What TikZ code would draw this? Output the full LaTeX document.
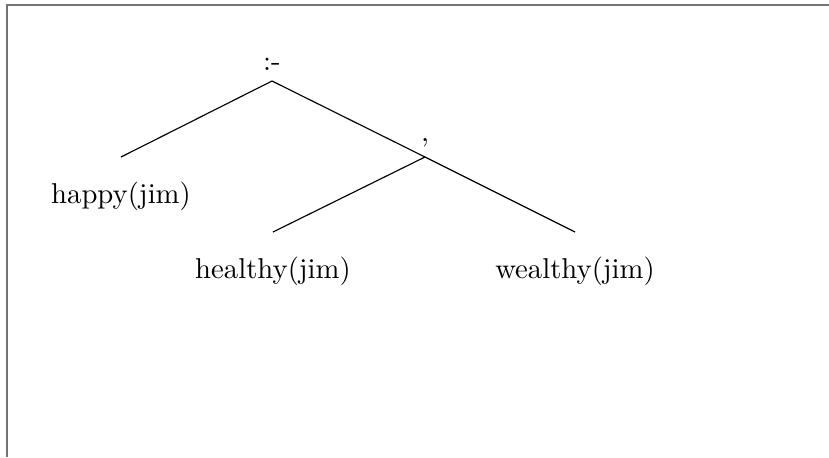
\documentclass[tikz,border=0pt]{standalone}
\usepackage{tikz}
\usetikzlibrary{positioning}

\definecolor{framegray}{gray}{0.45}

\begin{document}
\begin{tikzpicture}[x=0.3484pt, y=-0.3484pt,
  leaf/.style={inner sep=0pt},
  branch/.style={thin, black}]

\useasboundingbox (0,0) rectangle (829,457);

\draw[framegray, line width=0.85pt] (829,5) -- (7,5) -- (7,457);

\coordinate (rootpt) at (272,81);
\coordinate (conjpt) at (425,157);
\coordinate (happypt) at (121,157);
\coordinate (healthypt) at (273,232);
\coordinate (wealthypt) at (575,232);

\node[above] (root) at (rootpt) {:-};
\node[above] (conj) at (conjpt) {,};

\node[leaf, below=8.6pt of happypt] (happy) {happy(jim)};
\node[leaf, below=8.6pt of healthypt] (healthy) {healthy(jim)};
\node[leaf, below=8.6pt of wealthypt] (wealthy) {wealthy(jim)};

\draw[branch] (root.south) -- (happypt);
\draw[branch] (root.south) -- (conj.south);
\draw[branch] (conj.south) -- (healthypt);
\draw[branch] (conj.south) -- (wealthypt);

\end{tikzpicture}
\end{document}
